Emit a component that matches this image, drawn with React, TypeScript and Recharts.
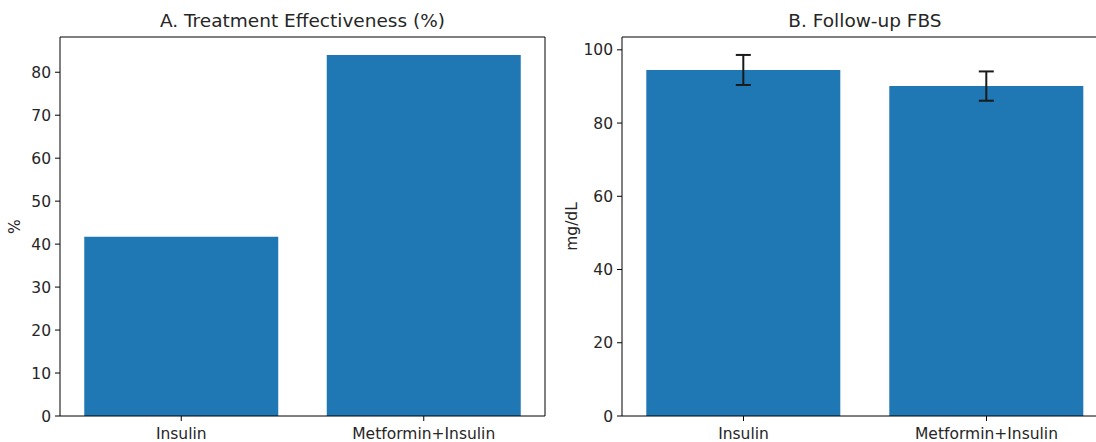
import React from 'react';
import { BarChart, Bar, XAxis, YAxis, ErrorBar, CartesianGrid } from 'recharts';

const categories = ['Insulin', 'Metformin+Insulin'];
const effectiveness = [41.7, 84.0];
const fbsMean = [94.5, 90.1];
const fbsErr = [4.1, 4.0];
const effTicks = [0, 10, 20, 30, 40, 50, 60, 70, 80];
const fbsTicks = [0, 20, 40, 60, 80, 100];

const effData = categories.map((name, i) => ({ name, value: effectiveness[i] }));
const fbsData = categories.map((name, i) => ({ name, value: fbsMean[i], err: fbsErr[i] }));

const FONT = 'DejaVu Sans, sans-serif';
const TXT = '#262626';
const BLUE = '#1f77b4';

const tickStyle = { fontSize: 15.5, fill: TXT, fontFamily: FONT };

const titleLabel = (title: string) => (props: any) => {
  const vb = props.viewBox;
  return (
    <text x={vb.x + vb.width / 2} y={27} textAnchor="middle" fontSize={18.5} fill={TXT} fontFamily={FONT}>
      {title}
    </text>
  );
};

const yLabel = (label: string, dx: number) => (props: any) => {
  const vb = props.viewBox;
  const cx = vb.x + dx;
  const cy = vb.y + vb.height / 2;
  return (
    <text x={cx} y={cy} transform={`rotate(-90, ${cx}, ${cy})`} textAnchor="middle" dominantBaseline="central" fontSize={15.5} fill={TXT} fontFamily={FONT}>
      {label}
    </text>
  );
};

function Panel(props: {
  data: any[];
  width: number;
  yWidth: number;
  rightMargin: number;
  domain: [number, number];
  ticks: number[];
  title: string;
  ylabel: string;
  labelDx: number;
  withErr?: boolean;
}) {
  const { data, width, yWidth, rightMargin, domain, ticks, title, ylabel, labelDx, withErr } = props;
  return (
    <BarChart width={width} height={442} data={data} margin={{ top: 37, right: rightMargin, left: 0, bottom: 0 }} barCategoryGap="10%">
      <CartesianGrid
        stroke="#000"
        strokeWidth={1}
        horizontalCoordinatesGenerator={(p: any) => [p.offset.top]}
        verticalCoordinatesGenerator={(p: any) => [p.offset.left + p.offset.width]}
      />
      <XAxis
        dataKey="name"
        height={26}
        tick={tickStyle}
        tickSize={5}
        tickMargin={7}
        axisLine={{ stroke: '#000', strokeWidth: 1 }}
        tickLine={{ stroke: '#000' }}
        interval={0}
        label={{ content: titleLabel(title) } as any}
      />
      <YAxis
        width={yWidth}
        domain={domain}
        ticks={ticks}
        type="number"
        allowDataOverflow
        tick={tickStyle}
        tickSize={5}
        tickMargin={4}
        axisLine={{ stroke: '#000', strokeWidth: 1 }}
        tickLine={{ stroke: '#000' }}
        label={{ content: yLabel(ylabel, labelDx) } as any}
      />
      <Bar dataKey="value" fill={BLUE} isAnimationActive={false}>
        {withErr ? <ErrorBar dataKey="err" width={7.5} stroke="#1a1a1a" strokeWidth={2} direction="y" /> : null}
      </Bar>
    </BarChart>
  );
}

export default function App() {
  return (
    <div style={{ position: 'fixed', left: 0, top: 0, width: 1096, height: 442, overflow: 'hidden', background: '#fff' }}>
      <div style={{ position: 'absolute', left: 0, top: 0 }}>
        <Panel
          data={effData}
          width={560}
          yWidth={60}
          rightMargin={15}
          domain={[0, 88.2]}
          ticks={effTicks}
          title="A. Treatment Effectiveness (%)"
          ylabel="%"
          labelDx={15}
        />
      </div>
      <div style={{ position: 'absolute', left: 560, top: 0 }}>
        <Panel
          data={fbsData}
          width={548}
          yWidth={62}
          rightMargin={0}
          domain={[0, 103.5]}
          ticks={fbsTicks}
          title="B. Follow-up FBS"
          ylabel="mg/dL"
          labelDx={12}
          withErr
        />
      </div>
    </div>
  );
}
